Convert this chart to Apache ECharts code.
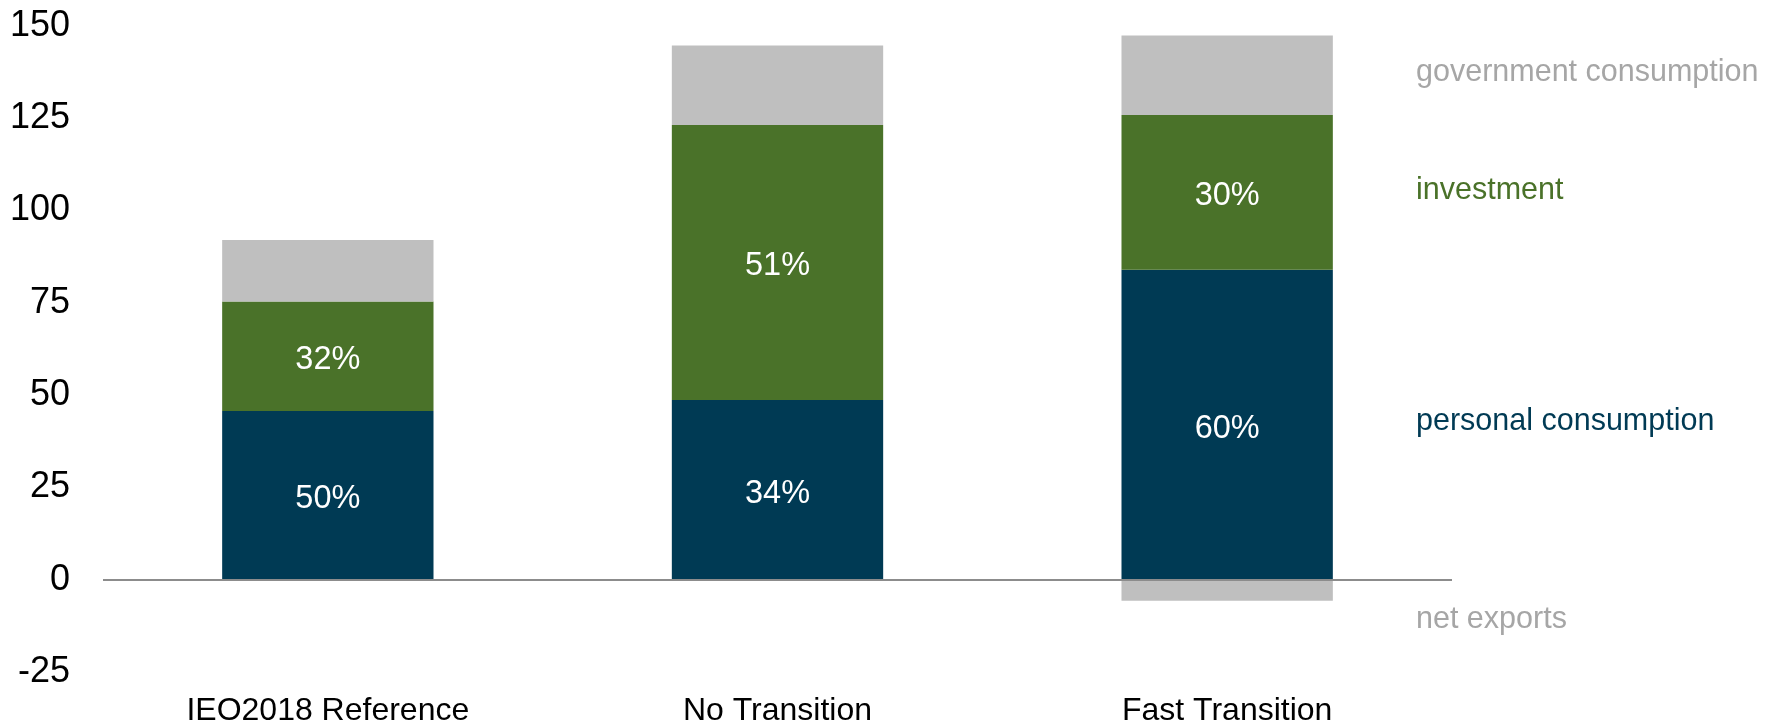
<!DOCTYPE html>
<html>
<head>
<meta charset="utf-8">
<style>
  html, body { margin: 0; padding: 0; background: #ffffff; }
  #chart { width: 1792px; height: 727px; }
</style>
<script src="https://cdn.jsdelivr.net/npm/echarts@6/dist/echarts.min.js"></script>
</head>
<body>
<div id="chart"></div>
<script>
// Scenario categories
const categories = ['IEO2018 Reference', 'No Transition', 'Fast Transition'];

// GDP components by scenario
const personalConsumption = [45.7, 48.7, 84.0];
const investment = [29.7, 74.5, 41.9];
const governmentConsumption = [16.6, 21.5, 21.5];
const netExports = [0, 0, -5.7];

// Share-of-GDP labels printed inside the bars
const personalShare = ['50%', '34%', '60%'];
const investmentShare = ['32%', '51%', '30%'];

// Y axis ticks
const yMin = -25;
const yMax = 150;
const yStep = 25;

// Series names shown at the right edge
const seriesLabels = ['government consumption', 'investment', 'personal consumption', 'net exports'];

const FONT = '"Liberation Sans", Arial, Helvetica, sans-serif';
const NAVY = '#003a54';
const GREEN = '#4a7229';
const GREY = '#bfbfbf';
const LABEL_GREY = '#a6a6a6';

const chart = echarts.init(document.getElementById('chart'), null, { renderer: 'canvas' });

const insideLabel = (shares) => ({
  show: true,
  position: 'inside',
  offset: [0, 4],
  color: '#ffffff',
  fontFamily: FONT,
  fontSize: 32.5,
  formatter: (p) => shares[p.dataIndex]
});

chart.setOption({
  animation: false,
  backgroundColor: '#ffffff',
  grid: { left: 103, right: 340, top: 26, bottom: 52.7, containLabel: false },
  xAxis: {
    type: 'category',
    data: categories,
    axisLine: { show: false, onZero: false },
    axisTick: { show: false },
    axisLabel: { color: '#000000', fontFamily: FONT, fontSize: 32, margin: 23 }
  },
  yAxis: {
    type: 'value',
    min: yMin,
    max: yMax,
    interval: yStep,
    axisLine: { show: false },
    axisTick: { show: false },
    splitLine: { show: false },
    axisLabel: { color: '#000000', fontFamily: FONT, fontSize: 36, margin: 33, padding: [5, 0, 0, 0] }
  },
  series: [
    {
      name: seriesLabels[2],
      type: 'bar',
      stack: 'gdp',
      barWidth: '47%',
      data: personalConsumption,
      itemStyle: { color: NAVY },
      label: insideLabel(personalShare),
      markLine: {
        silent: true,
        symbol: 'none',
        label: { show: false },
        lineStyle: { color: '#8c8c8c', width: 2, type: 'solid' },
        data: [{ yAxis: 0 }]
      }
    },
    {
      name: seriesLabels[1],
      type: 'bar',
      stack: 'gdp',
      data: investment,
      itemStyle: { color: GREEN },
      label: insideLabel(investmentShare)
    },
    {
      name: seriesLabels[0],
      type: 'bar',
      stack: 'gdp',
      data: governmentConsumption,
      itemStyle: { color: GREY }
    },
    {
      name: seriesLabels[3],
      type: 'bar',
      stack: 'gdp',
      data: netExports,
      itemStyle: { color: GREY }
    }
  ],
  graphic: [
    { type: 'text', left: 1416, top: 57, style: { text: seriesLabels[0], fill: LABEL_GREY, font: '30.5px ' + FONT } },
    { type: 'text', left: 1416, top: 175, style: { text: seriesLabels[1], fill: GREEN, font: '30.5px ' + FONT } },
    { type: 'text', left: 1416, top: 406, style: { text: seriesLabels[2], fill: NAVY, font: '30.5px ' + FONT } },
    { type: 'text', left: 1416, top: 604, style: { text: seriesLabels[3], fill: LABEL_GREY, font: '30.5px ' + FONT } }
  ]
});
</script>
</body>
</html>
